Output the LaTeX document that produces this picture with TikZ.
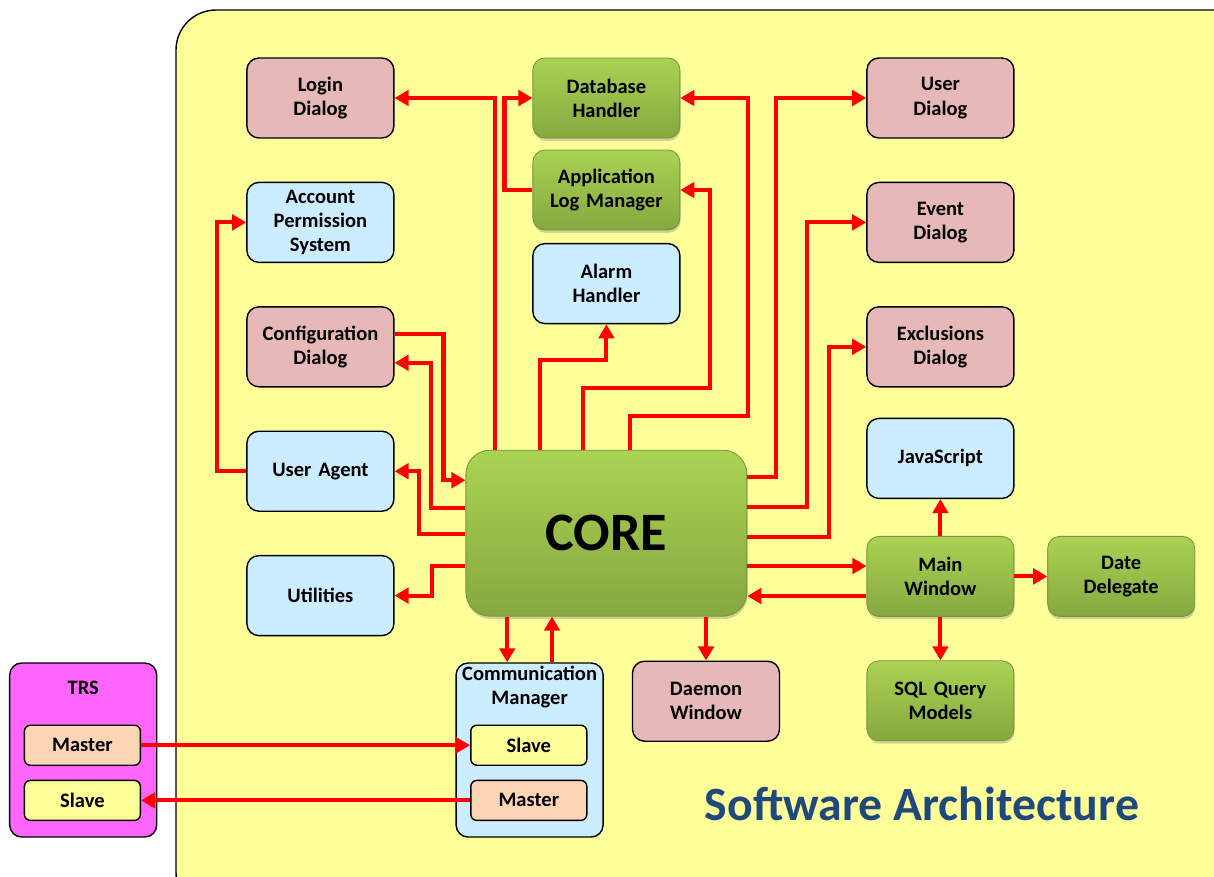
\documentclass[tikz,border=0pt]{standalone}
\usepackage{fontspec}
\setmainfont{Carlito}
\usetikzlibrary{arrows.meta, shadows}
\definecolor{bgyellow}{HTML}{FFFF99}
\definecolor{dlgpink}{HTML}{E6B9B8}
\definecolor{modblue}{HTML}{CCECFF}
\definecolor{peach}{HTML}{FCD5B5}
\definecolor{trsmagenta}{HTML}{FF66FF}
\definecolor{greentop}{HTML}{AAD253}
\definecolor{greenbot}{HTML}{86A83F}
\definecolor{greenedge}{HTML}{76953A}
\definecolor{titleblue}{HTML}{1F497D}
\tikzstyle{dialog} = [rectangle, rounded corners=0.3cm, text centered, draw=black, line width=1pt, fill=dlgpink, minimum width=3.675cm, minimum height=2cm, text width=3.3cm]
\tikzstyle{module} = [rectangle, rounded corners=0.3cm, text centered, draw=black, line width=1pt, fill=modblue, minimum width=3.675cm, minimum height=2cm, text width=3.3cm]
\tikzstyle{handler} = [rectangle, rounded corners=0.3cm, text centered, draw=greenedge, line width=0.6pt, top color=greentop, bottom color=greenbot, drop shadow={opacity=0.35, shadow xshift=0.5pt, shadow yshift=-2pt}, minimum width=3.675cm, minimum height=2cm, text width=3.3cm]
\tikzstyle{port} = [rectangle, rounded corners=0.15cm, text centered, draw=black, line width=1pt, minimum width=2.9cm, minimum height=1cm]
\tikzstyle{arrow} = [red, line width=2.9pt, -{Triangle[length=10pt, width=11pt]}]

\begin{document}
\begin{tikzpicture}[font=\bfseries\fontsize{14.6}{17.2}\selectfont, node distance=3.11cm]
\useasboundingbox (0,0) rectangle (30.35,-21.9);
\draw [fill=bgyellow, line width=1pt, rounded corners=1cm] (4.4,-0.25) rectangle (31.5,-22.8);

% left column
\node (login) [dialog] at (8.01,-2.45) {Login\\Dialog};
\node (account) [module, below of=login] {Account\\Permission\\System};
\node (config) [dialog, below of=account] {Configuration\\Dialog};
\node (useragent) [module, below of=config] {User Agent};
\node (utilities) [module, below of=useragent] {Utilities};

% middle column
\node (db) [handler] at (15.16,-2.45) {Database\\Handler};
\node (applog) [handler, below of=db, yshift=0.81cm] {Application\\Log Manager};
\node (alarm) [module, below of=applog, yshift=0.77cm] {Alarm\\Handler};
\node (core) [handler, minimum width=7.025cm, minimum height=4.15cm, rounded corners=0.6cm, font=\bfseries\fontsize{38.5}{40}\selectfont] at (15.16,-13.33) {CORE};

% right column
\node (userdlg) [dialog] at (23.51,-2.45) {User\\Dialog};
\node (event) [dialog, below of=userdlg] {Event\\Dialog};
\node (exclusions) [dialog, below of=event] {Exclusions\\Dialog};
\node (javascript) [module] at (23.51,-11.46) {JavaScript};
\node (mainwin) [handler] at (23.51,-14.41) {Main\\Window};
\node (datedel) [handler] at (28.03,-14.41) {Date\\Delegate};
\node (sql) [handler, below of=mainwin] {SQL Query\\Models};
\node (daemon) [dialog] at (17.65,-17.53) {Daemon\\Window};

% communication
\node (commgr) [module, minimum height=4.35cm] at (13.24,-18.75) {};
\node (commtitle) [text width=3.7cm, align=center] at ([yshift=-0.62cm]commgr.north) {Communication\\Manager};
\node (cmslave) [port, fill=bgyellow] at (13.22,-18.63) {Slave};
\node (cmmaster) [port, fill=peach] at (13.22,-20.01) {Master};
\node (trs) [module, fill=trsmagenta, minimum height=4.35cm] at (2.08,-18.75) {};
\node (trstitle) at ([yshift=-0.63cm]trs.north) {TRS};
\node (trsmaster) [port, fill=peach] at (2.06,-18.63) {Master};
\node (trsslave) [port, fill=bgyellow] at (2.06,-20.01) {Slave};

\node (swarch) [text=titleblue, font=\bfseries\fontsize{34}{36}\selectfont] at (23.05,-20.1) {Software Architecture};

% core to the top
\draw [arrow] ([xshift=-2.79cm]core.north) |- (login.east);
\draw [arrow] (applog.west) -- ++(-0.7cm,0) |- (db.west);
\draw [arrow] ([xshift=0.59cm]core.north) -- ++(0,0.85) -| ([xshift=1.7cm]db.east) -- (db.east);
\draw [arrow] ([xshift=-0.59cm]core.north) -- ++(0,1.55) -| ([xshift=0.75cm]applog.east) -- (applog.east);
\draw [arrow] ([xshift=-1.66cm]core.north) -- ++(0,2.25) -| (alarm.south);

% core to the right
\draw [arrow] ([yshift=1.4cm]core.east) -| ([xshift=-2.25cm]userdlg.west) -- (userdlg.west);
\draw [arrow] ([yshift=0.65cm]core.east) -| ([xshift=-1.475cm]event.west) -- (event.west);
\draw [arrow] ([yshift=-0.1cm]core.east) -| ([xshift=-0.925cm]exclusions.west) -- (exclusions.west);
\draw [arrow] ([yshift=0.26cm]mainwin.west -| core.east) -- ([yshift=0.26cm]mainwin.west);
\draw [arrow] ([yshift=-0.49cm]mainwin.west) -- ([yshift=-0.49cm]mainwin.west -| core.east);
\draw [arrow] (mainwin.north) -- (javascript.south);
\draw [arrow] (mainwin.east) -- (datedel.west);
\draw [arrow] (mainwin.south) -- (sql.north);

% core to the bottom
\draw [arrow] (daemon.north |- core.south) -- (daemon.north);
\draw [arrow] ([xshift=-0.56cm]commgr.north |- core.south) -- ([xshift=-0.56cm]commgr.north);
\draw [arrow] ([xshift=0.56cm]commgr.north) -- ([xshift=0.56cm]commgr.north |- core.south);

% core to the left
\draw [arrow] ([yshift=0.33cm]config.east) -| ([xshift=-0.55cm,yshift=1.325cm]core.west) -- ([yshift=1.325cm]core.west);
\draw [arrow] ([yshift=0.625cm]core.west) -| ([xshift=0.9cm,yshift=-0.4cm]config.east) -- ([yshift=-0.4cm]config.east);
\draw [arrow] ([yshift=-0.025cm]core.west) -| ([xshift=0.6cm]useragent.east) -- (useragent.east);
\draw [arrow] ([yshift=-0.825cm]core.west) -| ([xshift=0.925cm]utilities.east) -- (utilities.east);
\draw [arrow] (useragent.west) -- ++(-0.725cm,0) |- (account.west);

% TRS link
\draw [arrow] (trsmaster.east) -- (cmslave.west);
\draw [arrow] (cmmaster.west) -- (trsslave.east);
\end{tikzpicture}
\end{document}
